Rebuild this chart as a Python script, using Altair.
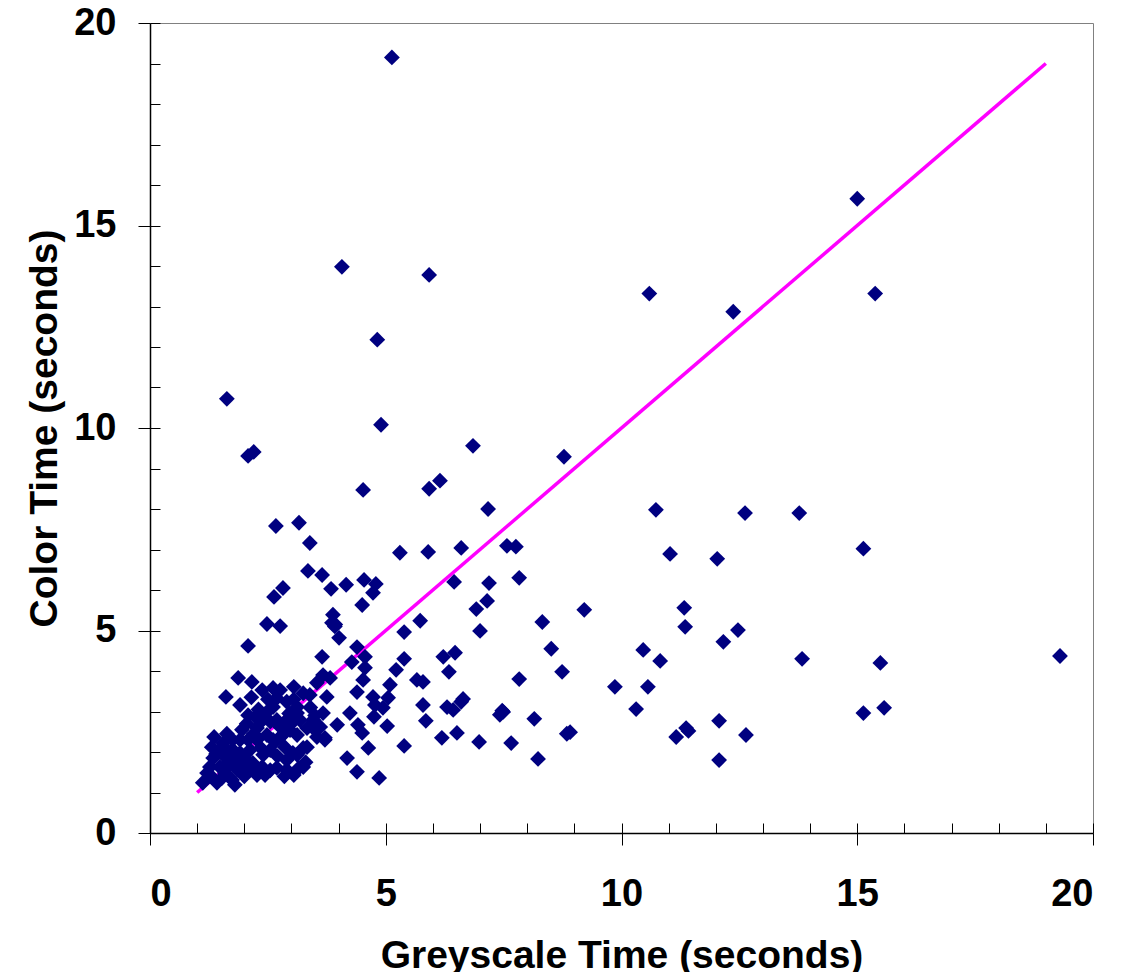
import altair as alt
import pandas as pd

# Greyscale time (x) and colour time (y), seconds
grey = [
    5.13, 4.07, 5.92, 4.82, 1.63, 4.90, 2.08, 2.20, 6.85, 8.78, 4.52, 5.92, 6.15, 7.17,
    15.00, 15.38, 10.59, 12.37, 10.73, 12.62, 13.77, 11.03, 12.03, 15.13, 9.21, 11.33,
    11.35, 12.47, 10.46, 12.16, 10.82, 13.83, 15.49, 19.30, 9.86, 10.56, 10.31, 15.13,
    15.57, 11.37, 11.42, 11.16, 12.07, 12.64, 12.07, 7.83, 8.32, 8.51, 8.74, 7.83, 7.49,
    8.15, 8.84, 8.91, 7.66, 8.23,
    3.35, 3.65, 3.84, 4.16, 4.54, 4.79, 4.73, 4.50, 3.88, 3.86, 3.92, 4.01, 6.45, 7.19,
    7.15, 6.92, 7.00, 5.73, 5.39, 4.39, 4.56, 3.65, 4.28, 4.56, 4.52, 4.39, 5.22, 5.39,
    5.09, 5.05, 4.73, 4.77, 4.94, 4.75, 5.03, 5.66, 5.79, 6.22, 6.47, 6.34, 6.64, 6.60,
    5.79, 5.85, 6.30, 6.43, 6.51, 6.19, 6.98, 7.42, 7.47, 4.24, 3.97, 4.41, 4.50, 4.63,
    4.18, 4.39, 4.86, 5.39, 3.67, 3.46, 3.71, 3.33, 3.25, 5.30, 5.90, 6.60, 7.57, 7.76,
    2.67, 3.16, 3.39, 2.63, 2.82, 2.48, 2.76, 2.08, 3.93,
    1.87, 2.16, 1.61, 2.38, 2.61, 2.76, 3.05, 3.54, 3.67, 3.82, 3.39, 3.75, 2.69, 2.90,
    1.91, 2.08, 2.48, 2.61, 3.12, 3.61, 2.69, 2.90, 3.03, 3.18, 3.33, 2.27, 1.91, 2.08,
    2.27, 2.12, 2.48, 2.61, 2.86, 3.03, 3.25, 3.54, 3.71, 1.36, 1.63, 1.48, 1.34, 1.27,
    1.21, 1.12, 1.42, 1.59, 1.74, 1.80, 1.48, 1.65, 1.85, 1.97, 2.12, 2.27, 2.44, 2.18,
    2.38, 1.91, 2.06, 2.40, 2.69, 2.90, 3.16, 3.05, 2.90, 3.12, 2.76, 2.97, 3.12, 3.46,
    1.31, 1.55, 1.76, 1.76, 1.59, 3.12, 2.23, 2.76,
    1.30, 1.52, 1.62, 1.40, 1.55, 1.75, 1.95, 2.05, 2.20, 2.35, 2.55, 2.65, 2.80, 2.95,
    3.05, 3.25, 2.55, 2.40, 2.30, 2.15, 2.50, 3.40, 3.50, 2.00, 2.55, 2.70, 3.30, 2.85,
]
color = [
    19.15, 13.98, 13.78, 12.18, 10.72, 10.08, 9.31, 9.41, 9.56, 9.29, 8.47, 8.50, 8.70, 8.00,
    15.66, 13.32, 13.32, 12.87, 7.98, 7.90, 7.90, 6.89, 6.77, 7.02, 5.51, 5.56,
    5.09, 5.01, 4.52, 4.72, 4.25, 4.30, 4.20, 4.37, 3.61, 3.61, 3.06, 2.96,
    3.09, 2.59, 2.52, 2.37, 2.77, 2.42, 1.80, 6.30, 5.21, 4.55, 3.98, 3.80, 2.99,
    2.82, 2.45, 2.49, 2.22, 1.83,
    6.47, 6.37, 6.03, 6.13, 6.25, 6.15, 5.93, 5.63, 5.39, 5.19, 5.10, 4.82, 6.20, 6.17,
    5.73, 5.53, 4.99, 5.24, 4.96, 4.59, 4.35, 4.35, 4.22, 4.08, 3.78, 3.48, 4.03, 4.30,
    3.66, 3.34, 3.36, 3.16, 3.09, 2.87, 2.64, 3.78, 3.73, 4.35, 4.45, 3.98, 3.31, 3.24,
    3.16, 2.77, 3.11, 3.04, 2.47, 2.35, 2.25, 2.92, 3.02, 2.96, 2.67, 2.67, 2.47, 2.10,
    1.85, 1.51, 1.36, 2.15, 2.96, 2.59, 2.30, 2.12, 1.63, 6.92, 6.94, 7.04, 7.09, 7.07,
    7.58, 7.66, 7.16, 5.83, 6.05, 5.16, 5.11, 4.62, 5.15,
    3.83, 3.73, 3.36, 3.53, 3.58, 3.53, 3.61, 3.71, 3.90, 3.83, 3.41, 3.36, 3.33, 3.24,
    3.16, 2.91, 2.99, 3.11, 3.11, 2.62, 2.79, 2.79, 2.74, 2.79, 2.59, 2.59, 2.30, 2.30,
    2.30, 2.05, 2.42, 2.30, 2.12, 1.98, 2.10, 2.37, 2.35, 2.37, 2.45, 2.05, 1.85, 1.63,
    1.48, 1.24, 1.24, 1.48, 1.31, 1.19, 1.63, 1.73, 1.56, 1.73, 1.56, 1.43, 1.43, 1.73,
    1.63, 1.98, 1.80, 1.93, 1.61, 1.56, 1.61, 1.43, 1.80, 1.93, 2.62, 2.54, 2.42, 2.79,
    2.12, 2.22, 2.05, 1.80, 1.88, 2.96, 2.87, 2.37,
    1.40, 1.35, 1.60, 1.95, 2.15, 2.30, 2.55, 2.70, 2.45, 2.10, 2.05, 2.25, 2.40, 2.95,
    3.30, 3.45, 2.75, 2.80, 3.05, 3.35, 3.30, 3.10, 2.90, 1.40, 1.55, 1.90, 1.75, 1.40,
]

# Reference (equal-time) line end points
line_grey = [1, 19]
line_color = [1, 19]

major_ticks = [0, 5, 10, 15, 20]
minor_ticks = list(range(0, 21))

points_df = pd.DataFrame({"grey": grey, "color": color})
line_df = pd.DataFrame({"grey": line_grey, "color": line_color})

FONT = "Liberation Sans"
xscale = alt.Scale(domain=[0, 20], nice=False, zero=True)
yscale = alt.Scale(domain=[0, 20], nice=False, zero=True)

main_x_axis = alt.Axis(
    orient="bottom", values=major_ticks, format="d", grid=False,
    domainColor="#000000", domainWidth=1.5, tickColor="#000000", tickWidth=1, tickSize=12,
    labelFont=FONT, labelFontSize=38, labelFontWeight="bold", labelColor="#000000",
    labelBaseline="alphabetic", labelPadding=60,
    title="Greyscale Time (seconds)", titleFont=FONT, titleFontSize=39, titleFontWeight="bold",
    titleColor="#000000", titleBaseline="alphabetic", titleX=471.5, titleY=134,
    titleAlign="center", titleAnchor="middle",
)
main_y_axis = alt.Axis(
    orient="left", values=major_ticks, format="d", grid=False,
    domainColor="#000000", domainWidth=1.5, tickColor="#000000", tickWidth=1, tickSize=12,
    labelFont=FONT, labelFontSize=38, labelFontWeight="bold", labelColor="#000000",
    labelBaseline="middle", labelPadding=22,
    title="Color Time (seconds)", titleFont=FONT, titleFontSize=39, titleFontWeight="bold",
    titleColor="#000000", titleBaseline="alphabetic", titleAngle=270, titleX=-94, titleY=405,
    titleAlign="center", titleAnchor="middle",
)
minor_x_axis = alt.Axis(
    orient="bottom", values=minor_ticks, grid=False, domain=False, labels=False,
    tickColor="#000000", tickWidth=1, tickSize=10, offset=-10, title=None,
)
minor_y_axis = alt.Axis(
    orient="left", values=minor_ticks, grid=False, domain=False, labels=False,
    tickColor="#000000", tickWidth=1, tickSize=10, offset=-10, title=None,
)

line = alt.Chart(line_df).mark_line(color="#FF00FF", strokeWidth=3.5).encode(
    x=alt.X("grey:Q", scale=xscale, axis=minor_x_axis),
    y=alt.Y("color:Q", scale=yscale, axis=minor_y_axis),
)

points = alt.Chart(points_df).mark_point(
    shape="diamond", filled=True, size=250, color="#000080", opacity=1
).encode(
    x=alt.X("grey:Q", scale=xscale, axis=main_x_axis),
    y=alt.Y("color:Q", scale=yscale, axis=main_y_axis),
)

chart = (
    alt.layer(line, points)
    .resolve_axis(x="independent", y="independent")
    .properties(
        width=943,
        height=810,
        autosize=alt.AutoSizeParams(type="none"),
        padding={"left": 142, "top": 15, "right": 22, "bottom": 150},
        background="#FFFFFF",
    )
    .configure_view(stroke="#808080", strokeWidth=1)
)

chart.save("out.html", embed_options={"renderer": "svg", "actions": False})
